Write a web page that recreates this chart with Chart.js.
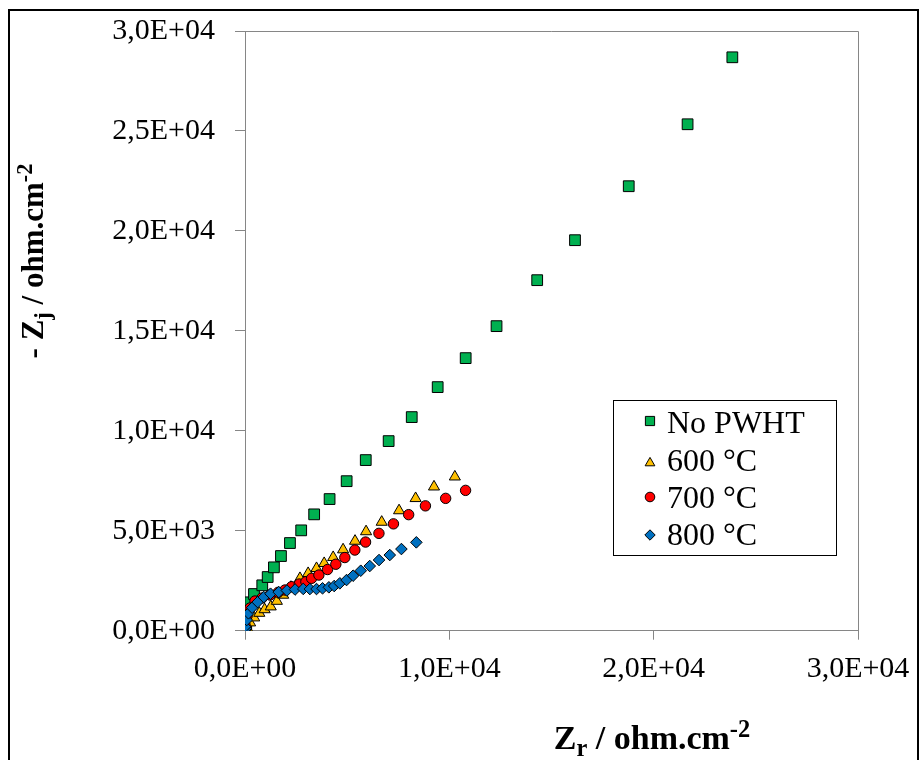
<!DOCTYPE html>
<html>
<head>
<meta charset="utf-8">
<script src="https://cdn.jsdelivr.net/npm/chart.js@4.4.1/dist/chart.umd.min.js"></script>
<style>
html, body { margin: 0; padding: 0; background: #ffffff; }
canvas { display: block; }
</style>
</head>
<body>
<canvas id="c" width="923" height="760"></canvas>
<script>
// ---------- DATA ----------
const seriesNames = ['No PWHT', '600 \u00B0C', '700 \u00B0C', '800 \u00B0C'];

const noPwhtZr = [20, 40, 60, 110, 170, 260, 440, 845, 1110, 1415, 1760, 2200, 2750, 3385, 4140, 4975, 5910, 7030, 8160, 9430, 10800, 12310, 14300, 16150, 18780, 21660, 23850];
const noPwhtZj = [20, 60, 150, 560, 1000, 1420, 1835, 2270, 2685, 3170, 3735, 4385, 5020, 5820, 6585, 7480, 8535, 9485, 10685, 12185, 13635, 15235, 17535, 19535, 22235, 25335, 28685];

const t600Zr = [30, 60, 100, 250, 450, 700, 960, 1260, 1560, 1870, 2250, 2690, 3090, 3500, 3875, 4315, 4800, 5385, 5925, 6690, 7540, 8350, 9250, 10270];
const t600Zj = [20, 60, 135, 400, 650, 880, 1060, 1200, 1480, 1785, 2180, 2620, 2870, 3120, 3370, 3670, 4055, 4485, 4960, 5435, 6010, 6620, 7200, 7700];

const t700Zr = [10, 0, 100, 245, 490, 830, 1220, 1625, 1955, 2280, 2655, 2980, 3260, 3615, 4040, 4445, 4885, 5375, 5900, 6555, 7265, 8010, 8830, 9820, 10795];
const t700Zj = [60, 285, 735, 1135, 1485, 1635, 1785, 1920, 2035, 2200, 2335, 2450, 2620, 2785, 3060, 3325, 3660, 4035, 4435, 4870, 5345, 5805, 6245, 6620, 7020];

const t800Zr = [10, 30, 0, 85, 170, 350, 620, 920, 1250, 1650, 2050, 2450, 2850, 3175, 3500, 3795, 4105, 4365, 4640, 4970, 5290, 5665, 6105, 6560, 7085, 7655, 8385];
const t800Zj = [40, 110, 200, 535, 870, 1150, 1430, 1680, 1850, 1930, 2010, 2060, 2090, 2085, 2085, 2120, 2170, 2235, 2370, 2535, 2750, 3000, 3235, 3535, 3785, 4085, 4420];

const xTickValues = [0, 10000, 20000, 30000];
const yTickValues = [0, 5000, 10000, 15000, 20000, 25000, 30000];

// ---------- STYLES ----------
const colors = ['#00B050', '#FFC000', '#FF0000', '#0070C0'];
const shapes = ['rect', 'triangle', 'circle', 'rectRot'];
const radii = [7.6, 6.4, 5.2, 5.8];
const serifFont = '"Liberation Serif", "Times New Roman", serif';

function fmtSci(v) {
  if (v === 0) return '0,0E+00';
  const e = Math.floor(Math.log10(Math.abs(v)) + 1e-9);
  const m = v / Math.pow(10, e);
  const es = String(Math.abs(e)).padStart(2, '0');
  return m.toFixed(1).replace('.', ',') + 'E' + (e >= 0 ? '+' : '-') + es;
}

function pts(xs, ys) { return xs.map((x, i) => ({ x: x, y: ys[i] })); }

const allSeries = [
  pts(noPwhtZr, noPwhtZj),
  pts(t600Zr, t600Zj),
  pts(t700Zr, t700Zj),
  pts(t800Zr, t800Zj)
];

const datasets = allSeries.map((d, i) => ({
  label: seriesNames[i],
  data: d,
  showLine: false,
  pointStyle: shapes[i],
  pointRadius: radii[i],
  pointHoverRadius: radii[i],
  pointBackgroundColor: colors[i],
  pointBorderColor: '#000000',
  pointBorderWidth: 1,
  backgroundColor: colors[i],
  borderColor: '#000000',
  order: 4 - i
}));

// ---------- helpers for drawing ----------
function drawMarker(ctx, shape, x, y, r, fill) {
  ctx.save();
  ctx.beginPath();
  if (shape === 'rect') {
    const s = Math.SQRT1_2 * r;
    ctx.rect(x - s, y - s, 2 * s, 2 * s);
  } else if (shape === 'triangle') {
    const a = 2 * Math.PI / 3;
    ctx.moveTo(x, y - r);
    ctx.lineTo(x + Math.sin(a) * r, y - Math.cos(a) * r);
    ctx.lineTo(x + Math.sin(2 * a) * r, y - Math.cos(2 * a) * r);
    ctx.closePath();
  } else if (shape === 'circle') {
    ctx.arc(x, y, r, 0, Math.PI * 2);
  } else {
    ctx.moveTo(x - r, y);
    ctx.lineTo(x, y - r);
    ctx.lineTo(x + r, y);
    ctx.lineTo(x, y + r);
    ctx.closePath();
  }
  ctx.fillStyle = fill;
  ctx.fill();
  ctx.lineWidth = 1;
  ctx.strokeStyle = '#000000';
  ctx.stroke();
  ctx.restore();
}

// parts: [text, mode] where mode is 'n', 'sub', 'sup'
const SMALL = 0.72;
function richWidth(ctx, parts, size) {
  let w = 0;
  parts.forEach(p => {
    const s = p[1] === 'n' ? size : size * SMALL;
    ctx.font = 'bold ' + s + 'px ' + serifFont;
    w += ctx.measureText(p[0]).width;
  });
  return w;
}
function drawRich(ctx, parts, size, x, y) {
  let cx = x;
  parts.forEach(p => {
    const s = p[1] === 'n' ? size : size * SMALL;
    ctx.font = 'bold ' + s + 'px ' + serifFont;
    let dy = 0;
    if (p[1] === 'sub') dy = size * 0.22;
    if (p[1] === 'sup') dy = -size * 0.36;
    ctx.fillText(p[0], cx, y + dy);
    cx += ctx.measureText(p[0]).width;
  });
}

const xTitleParts = [['Z', 'n'], ['r', 'sub'], [' / ohm.cm', 'n'], ['-2', 'sup']];
const yTitleParts = [['- Z', 'n'], ['j', 'sub'], [' / ohm.cm', 'n'], ['-2', 'sup']];

const decorPlugin = {
  id: 'decor',
  beforeDraw(chart) {
    const ctx = chart.ctx;
    ctx.save();
    ctx.fillStyle = '#ffffff';
    ctx.fillRect(0, 0, chart.width, chart.height);
    ctx.restore();
  },
  beforeDatasetsDraw(chart) {
    const ctx = chart.ctx;
    const a = chart.chartArea;
    ctx.save();
    ctx.strokeStyle = '#868686';
    ctx.lineWidth = 1;
    ctx.beginPath();
    ctx.moveTo(a.left, Math.round(a.top) + 0.5);
    ctx.lineTo(Math.round(a.right) + 0.5, Math.round(a.top) + 0.5);
    ctx.lineTo(Math.round(a.right) + 0.5, a.bottom);
    ctx.stroke();
    ctx.restore();
  },
  afterDraw(chart) {
    const ctx = chart.ctx;
    ctx.save();
    // outer frame
    ctx.strokeStyle = '#000000';
    ctx.lineWidth = 2;
    ctx.strokeRect(9, 10, 909, 800);

    // axis titles
    ctx.fillStyle = '#000000';
    ctx.textBaseline = 'alphabetic';
    ctx.textAlign = 'left';
    const wx = richWidth(ctx, xTitleParts, 34);
    drawRich(ctx, xTitleParts, 34, 652 - wx / 2, 749);

    const wy = richWidth(ctx, yTitleParts, 31);
    ctx.save();
    ctx.translate(43, 261);
    ctx.rotate(-Math.PI / 2);
    drawRich(ctx, yTitleParts, 31, -wy / 2, 0);
    ctx.restore();

    // legend
    const lx = 613.5, ly = 400.5, lw = 223, lh = 155;
    ctx.fillStyle = '#ffffff';
    ctx.fillRect(lx, ly, lw, lh);
    ctx.strokeStyle = '#000000';
    ctx.lineWidth = 1;
    ctx.strokeRect(lx, ly, lw, lh);
    const markerY = [421, 463, 497, 535];
    const textY = [433, 471, 508, 545];
    const legR = [6.5, 5.6, 4.8, 5.2];
    ctx.textAlign = 'left';
    ctx.textBaseline = 'alphabetic';
    seriesNames.forEach((name, i) => {
      drawMarker(ctx, shapes[i], 650, markerY[i], legR[i], colors[i]);
      ctx.fillStyle = '#000000';
      ctx.font = '32px ' + serifFont;
      ctx.fillText(name, 667, textY[i]);
    });
    ctx.restore();
  }
};

const tickFont = { family: serifFont, size: 30 };

new Chart(document.getElementById('c'), {
  type: 'scatter',
  data: { datasets: datasets },
  options: {
    responsive: false,
    animation: false,
    devicePixelRatio: 1,
    layout: { padding: { top: 31, right: 65, bottom: 0, left: 0 } },
    plugins: {
      legend: { display: false },
      tooltip: { enabled: false },
      title: { display: false }
    },
    scales: {
      x: {
        type: 'linear',
        min: 0,
        max: 30000,
        afterBuildTicks(s) { s.ticks = xTickValues.map(v => ({ value: v })); },
        afterFit(s) { s.height = 129.3; s.paddingLeft = 0; s.paddingRight = 0; },
        ticks: {
          color: '#000000',
          font: tickFont,
          padding: 11,
          maxRotation: 0,
          autoSkip: false,
          callback: v => fmtSci(v)
        },
        grid: { drawOnChartArea: false, color: '#868686', tickLength: 9, lineWidth: 1 },
        border: { display: true, color: '#868686', width: 1 }
      },
      y: {
        type: 'linear',
        min: 0,
        max: 30000,
        afterBuildTicks(s) { s.ticks = yTickValues.map(v => ({ value: v })); },
        afterFit(s) { s.width = 245; s.paddingTop = 0; s.paddingBottom = 0; },
        ticks: {
          color: '#000000',
          font: tickFont,
          padding: 20,
          autoSkip: false,
          callback: v => fmtSci(v)
        },
        grid: { drawOnChartArea: false, color: '#868686', tickLength: 10, lineWidth: 1 },
        border: { display: true, color: '#868686', width: 1 }
      }
    }
  },
  plugins: [decorPlugin]
});
</script>
</body>
</html>
